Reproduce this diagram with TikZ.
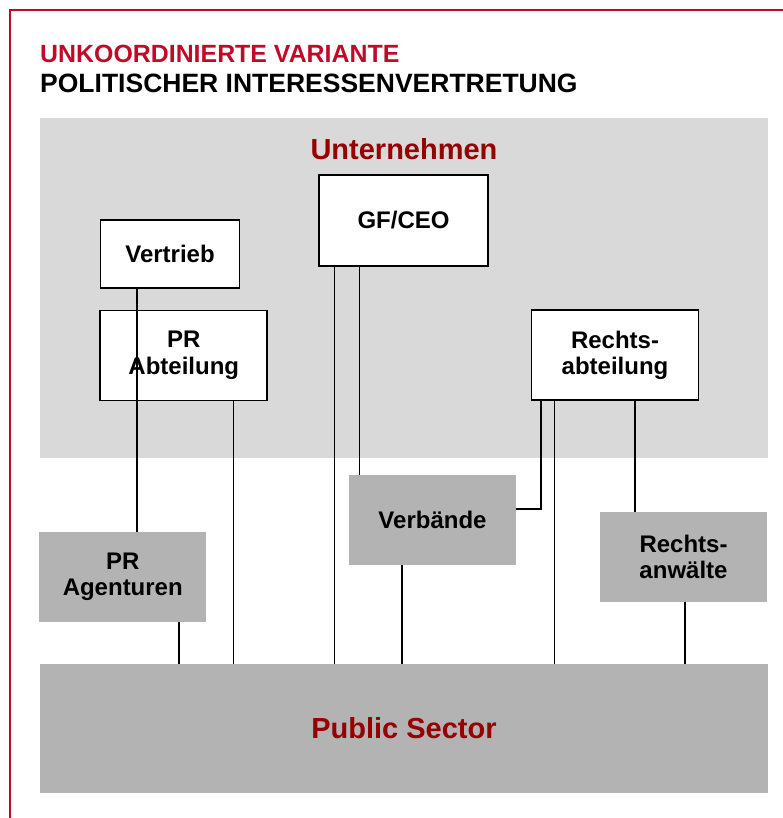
\documentclass[tikz,border=0pt]{standalone}
\usepackage{fontspec}
\setmainfont{Liberation Sans}
\usepackage{tikz}

\definecolor{titlered}{RGB}{192,10,40}
\definecolor{darkred}{RGB}{150,0,0}
\definecolor{lightgray}{RGB}{217,217,217}
\definecolor{midgray}{RGB}{179,179,179}

\begin{document}
\begin{tikzpicture}[x=1pt, y=-1pt]
  \tikzset{
    orgbox/.style={draw=black, line width=1.8pt, fill=white, align=center,
      minimum width=167pt, minimum height=90pt, inner sep=0pt,
      font=\fontsize{24}{26.5}\selectfont\bfseries},
    extbox/.style={fill=midgray, align=center,
      minimum width=167pt, minimum height=90pt, inner sep=0pt,
      font=\fontsize{24}{26.5}\selectfont\bfseries},
    sectitle/.style={text=darkred, inner sep=0pt,
      font=\fontsize{29}{33}\selectfont\bfseries},
    link/.style={draw=black, line width=1.7pt}
  }
  \useasboundingbox (0,0) rectangle (783,818);
  \clip (0,0) rectangle (783,818);
  \draw[titlered, line width=1.4pt] (10,10) rectangle (800,840);

  \node[anchor=base west, inner sep=0pt, text=titlered,
    font=\fontsize{24.9}{28}\selectfont\bfseries] (title1) at (40,63) {UNKOORDINIERTE VARIANTE};
  \node[anchor=base west, inner sep=0pt,
    font=\fontsize{26.5}{28}\selectfont\bfseries] (title2) at (40,93) {POLITISCHER INTERESSENVERTRETUNG};

  % Unternehmen
  \node[fill=lightgray, minimum width=728pt, minimum height=340pt, inner sep=0pt] (firma) at (404,288) {};
  \node[sectitle] (firmatitle) at (404,149) {Unternehmen};

  \node[orgbox, minimum width=169pt, minimum height=91pt] (ceo) at (403.5,220.5) {GF/CEO};
  \node[orgbox, minimum width=139pt, minimum height=67.5pt] (vertrieb) at (170,254) {Vertrieb};
  \node[orgbox] (prabt) at (183.75,355.5) {PR\\Abteilung};
  \node[orgbox] (rechtsabt) at (615,355.25) {Rechts-\\abteilung};

  % externe Akteure
  \node[extbox] (verbaende) at (432.5,520) {Verbände};
  \node[extbox] (pragentur) at (122.75,577) {PR\\Agenturen};
  \node[extbox] (anwaelte) at (683.5,557) {Rechts-\\anwälte};

  \node[fill=midgray, minimum width=728pt, minimum height=129pt, inner sep=0pt] (public) at (404,728.5) {};
  \node[sectitle] (publictitle) at (public.center) {Public Sector};

  \draw[link] ([xshift=-33pt]vertrieb.south) coordinate (v1) -- (v1 |- pragentur.north);
  \draw[link] ([xshift=49.75pt]prabt.south) coordinate (p1) -- (p1 |- public.north);
  \draw[link] ([xshift=56.25pt]pragentur.south) coordinate (a1) -- (a1 |- public.north);
  \draw[link] ([xshift=-69pt]ceo.south) coordinate (c1) -- (c1 |- public.north);
  \draw[link] ([xshift=-44pt]ceo.south) coordinate (c2) -- (c2 |- verbaende.north);
  \draw[link] ([xshift=-30.5pt]verbaende.south) coordinate (b1) -- (b1 |- public.north);
  \draw[link] ([xshift=-74pt]rechtsabt.south) |- ([yshift=11pt]verbaende.east);
  \draw[link] ([xshift=-60.5pt]rechtsabt.south) coordinate (r2) -- (r2 |- public.north);
  \draw[link] ([xshift=20pt]rechtsabt.south) coordinate (r3) -- (r3 |- anwaelte.north);
  \draw[link] ([xshift=1.5pt]anwaelte.south) coordinate (w1) -- (w1 |- public.north);
\end{tikzpicture}
\end{document}
